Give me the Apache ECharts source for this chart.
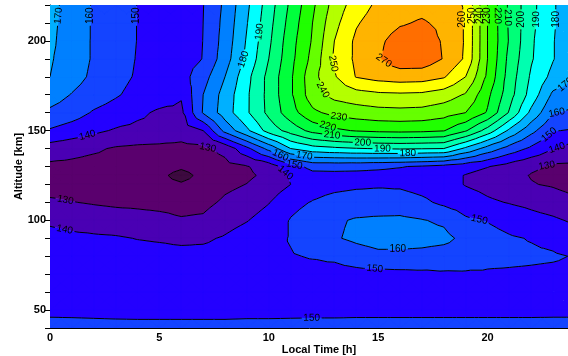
<!DOCTYPE html>
<html>
<head>
<meta charset="utf-8">
<script src="https://cdn.jsdelivr.net/npm/echarts@6/dist/echarts.min.js"></script>
<style>
  html, body { margin: 0; padding: 0; background: #fff; }
  #chart { width: 568px; height: 356px; }
</style>
</head>
<body>
<div id="chart"></div>
<script>
// grid of the field: local time (h) across, altitude (km) up
const localTime = [0, 1, 2, 3, 4, 5, 6, 7, 8, 9, 10, 11, 12, 13, 14, 15, 16, 17, 18, 19, 20, 21, 22, 23, 24];
const altitude = [40, 50, 60, 70, 80, 90, 100, 110, 120, 125, 130, 140, 150, 160, 170, 180, 190, 200, 210, 220];

// one row per altitude (bottom to top), one value per hour
const temperature = [
  [151.5,151.5,151.4,151.3,151.2, 151.2,151.2,151.2,151.2,151.3, 151.3,151.3,151.4,151.4,151.4, 151.4,151.4,151.4,151.4,151.4, 151.4,151.4,151.4,151.5,151.5], // 40
  [149.0,148.9,148.8,148.7,148.7, 148.7,148.7,148.7,148.7,148.8, 148.8,148.9,148.9,148.9,149.0, 149.0,149.0,149.0,149.0,149.0, 149.0,149.0,149.0,149.0,149.0], // 50
  [147.8,147.6,147.4,147.3,147.2, 147.2,147.2,147.2,147.3,147.4, 147.6,147.8,147.9,148.0,148.0, 148.0,148.0,148.0,148.1,148.2, 148.3,148.3,148.2,148.0,147.8], // 60
  [147.0,146.8,146.5,146.3,146.2, 146.0,146.0,146.0,146.2,146.6, 147.0,147.5,147.5,147.0,147.0, 147.0,147.5,148.0,148.8,149.0, 149.0,148.8,148.5,148.0,147.5], // 70
  [145.5,145.2,144.8,144.3,143.8, 143.3,143.0,143.0,144.0,146.5, 148.5,149.5,150.5,151.5,155.0, 157.5,157.5,157.0,155.5,154.5, 152.5,152.0,151.5,151.0,149.5], // 80
  [143.0,142.0,141.5,141.0,139.7, 139.0,138.0,138.5,141.0,145.0, 147.0,150.5,154.0,159.0,162.0, 164.0,164.0,163.5,162.5,157.5, 153.5,151.0,149.5,147.5,144.0], // 90
  [138.5,137.0,135.5,134.5,133.5, 132.5,130.8,131.5,136.0,139.5, 145.0,150.5,154.0,158.5,161.0, 161.8,162.0,160.5,158.5,151.5, 149.5,146.5,143.5,141.5,138.5], // 100
  [131.5,130.3,129.2,128.3,128.0, 127.5,127.0,127.5,131.5,134.0, 139.5,147.5,150.5,153.0,154.0, 154.0,154.5,152.0,148.0,145.0, 141.5,139.5,137.5,135.0,132.0], // 110
  [126.0,125.5,125.0,124.5,123.5, 122.5,121.0,123.5,128.0,130.2, 134.0,140.0,146.0,147.5,148.5, 149.0,148.5,146.5,144.0,139.5, 137.0,134.5,130.5,129.0,126.5], // 120
  [125.5,125.0,124.5,124.0,123.0, 122.0,117.0,122.5,126.0,128.5, 132.0,141.0,147.0,147.5,147.5, 147.5,147.0,146.0,144.0,139.5, 136.0,133.0,129.5,128.0,125.5], // 125
  [128.0,127.5,126.5,126.0,125.0, 124.0,121.5,124.0,127.0,129.5, 134.0,146.0,153.0,153.0,152.5, 151.5,150.5,149.0,147.0,144.0, 140.5,136.0,131.5,128.5,128.0], // 130
  [135.5,133.5,131.5,129.0,128.0, 127.5,127.0,128.0,133.0,147.5, 163.0,180.0,186.0,188.0,189.5, 190.5,191.0,190.5,190.0,178.0, 166.0,156.0,148.0,140.5,135.5], // 140
  [149.0,145.5,142.0,139.0,137.5, 137.0,135.0,140.0,163.0,178.0, 194.0,204.0,213.0,218.0,220.7, 222.0,222.5,222.0,220.5,211.0, 196.0,178.0,163.0,150.5,149.0], // 150
  [158.0,154.5,149.0,146.0,142.0, 138.5,138.0,160.8,175.0,188.6, 202.5,215.7,227.8,233.0,235.0, 236.5,237.0,236.5,234.0,230.0, 219.0,199.0,177.5,160.5,158.0], // 160
  [165.0,159.5,155.0,151.0,147.0, 145.0,141.0,160.0,174.0,188.5, 203.0,218.5,235.5,243.0,246.0, 248.0,248.5,248.0,245.0,239.0, 222.5,204.0,186.0,168.0,165.0], // 170
  [170.0,164.0,158.0,153.0,149.0, 146.0,146.0,156.0,170.0,187.0, 203.0,218.5,236.5,249.0,260.5, 263.5,265.0,264.5,261.0,250.0, 228.0,205.5,188.5,177.0,170.0], // 180
  [171.0,165.0,159.0,154.0,149.5, 146.0,145.5,150.3,165.5,182.5, 200.0,217.0,233.0,251.5,262.0, 269.0,276.0,276.0,269.5,258.5, 230.0,207.0,191.0,180.5,171.0], // 190
  [172.0,165.0,159.0,154.0,149.8, 146.0,145.0,150.1,164.0,181.0, 198.0,216.0,231.0,250.0,262.0, 268.0,274.0,275.0,269.0,259.0, 230.0,209.0,191.5,180.5,172.0], // 200
  [172.5,165.5,159.0,154.5,149.8, 146.5,145.5,150.0,163.0,179.5, 196.5,214.0,230.0,247.0,259.0, 265.0,269.0,271.0,268.0,259.0, 230.0,208.5,192.5,181.0,172.5], // 210
  [173.0,166.0,159.0,155.0,149.8, 147.0,146.0,149.7,162.0,178.0, 195.0,212.0,228.0,244.0,255.0, 262.0,266.0,267.0,265.0,259.0, 230.0,208.0,193.0,181.0,173.0]  // 220
];

const levels = [120, 130, 140, 150, 160, 170, 180, 190, 200, 210, 220, 230, 240, 250, 260, 270];

// fill below 120, between each pair of levels, above 270
const bandColors = [
  '#3d0a40', '#5a006e', '#4a00b4', '#2400ff', '#1444ff', '#0080ff', '#00b0ff', '#00ffff',
  '#00ffb0', '#00ff78', '#00ff3c', '#20ff00', '#66ff00', '#b4ff00', '#ffff00', '#ffb400', '#ff6e00'
];

// where the contour labels sit: [local time, altitude, level]
const contourLabels = [
  [0.37, 214, 170], [1.9, 214, 160], [3.97, 214, 150],
  [8.77, 190, 180], [9.7, 205, 190],
  [12.8, 187, 250], [12.3, 171.5, 240], [15.2, 188, 270],
  [18.9, 212, 260], [19.3, 214, 250], [19.6, 214, 240], [20.0, 214, 230], [20.5, 214, 220],
  [20.9, 213, 210], [21.55, 212, 200], [22.2, 212, 190], [23.15, 212, 180], [23.4, 178, 170],
  [13.2, 157, 230], [12.7, 152.5, 220], [12.9, 148, 210], [14.3, 144.7, 200], [15.2, 142.5, 190],
  [16.35, 141.3, 180], [11.65, 138, 170], [10.6, 138, 160], [11.2, 133, 150], [10.9, 128.5, 140],
  [7.2, 139.7, 130], [1.7, 148, 140], [0.7, 111.2, 130], [0.7, 96.6, 140],
  [23.2, 158, 160], [22.8, 148, 150], [23.15, 141.3, 140], [22.7, 131.3, 130],
  [19.6, 98.9, 150], [15.9, 82.7, 160], [14.85, 73.7, 150], [11.96, 45.8, 150]
];

const FONT = '"Liberation Sans", Arial, Helvetica, sans-serif';

function clipPoly(poly, t, above) {
  const out = [];
  for (let k = 0; k < poly.length; k++) {
    const p = poly[k], q = poly[(k + 1) % poly.length];
    const pin = above ? p.v >= t : p.v <= t;
    const qin = above ? q.v >= t : q.v <= t;
    if (pin) out.push(p);
    if (pin !== qin) {
      const s = (t - p.v) / (q.v - p.v);
      out.push({ h: p.h + s * (q.h - p.h), z: p.z + s * (q.z - p.z), v: t });
    }
  }
  return out;
}

function renderContours(params, api) {
  const eps = 1e-6;
  const thr = levels.map(l => l + eps);
  const bandPaths = bandColors.map(() => []);
  const segs = levels.map(() => []);
  const toPx = p => api.coord([p.h, p.z]);

  for (let j = 0; j < altitude.length - 1; j++) {
    for (let i = 0; i < localTime.length - 1; i++) {
      const a = { h: localTime[i], z: altitude[j], v: temperature[j][i] };
      const b = { h: localTime[i + 1], z: altitude[j], v: temperature[j][i + 1] };
      const c = { h: localTime[i + 1], z: altitude[j + 1], v: temperature[j + 1][i + 1] };
      const d = { h: localTime[i], z: altitude[j + 1], v: temperature[j + 1][i] };
      const m = { h: (a.h + b.h) / 2, z: (a.z + d.z) / 2, v: (a.v + b.v + c.v + d.v) / 4 };
      const tris = [[a, b, m], [b, c, m], [c, d, m], [d, a, m]];
      tris.forEach(tri => {
        const vmin = Math.min(tri[0].v, tri[1].v, tri[2].v);
        const vmax = Math.max(tri[0].v, tri[1].v, tri[2].v);
        for (let k = 0; k < bandColors.length; k++) {
          const lo = k === 0 ? -Infinity : thr[k - 1];
          const hi = k === bandColors.length - 1 ? Infinity : thr[k];
          if (vmax < lo || vmin > hi) continue;
          let poly = tri;
          if (lo > -Infinity) poly = clipPoly(poly, lo, true);
          if (hi < Infinity) poly = clipPoly(poly, hi, false);
          if (poly.length < 3) continue;
          const pts = poly.map(toPx);
          bandPaths[k].push('M' + pts.map(p => p[0].toFixed(2) + ' ' + p[1].toFixed(2)).join('L') + 'Z');
        }
        for (let li = 0; li < levels.length; li++) {
          const t = thr[li];
          if (vmax < t || vmin > t) continue;
          const cross = [];
          for (let e = 0; e < 3; e++) {
            const p = tri[e], q = tri[(e + 1) % 3];
            if ((p.v - t) * (q.v - t) < 0) {
              const s = (t - p.v) / (q.v - p.v);
              cross.push(toPx({ h: p.h + s * (q.h - p.h), z: p.z + s * (q.z - p.z) }));
            }
          }
          if (cross.length === 2) segs[li].push(cross);
        }
      });
    }
  }

  // snap every label onto its own contour and take the local direction
  const placed = contourLabels.map(([h, z, lev]) => {
    const li = levels.indexOf(lev);
    const anchor = api.coord([h, z]);
    let best = null, bestD = Infinity;
    segs[li].forEach(([p, q]) => {
      const dx = q[0] - p[0], dy = q[1] - p[1];
      const len2 = dx * dx + dy * dy || 1e-9;
      let s = ((anchor[0] - p[0]) * dx + (anchor[1] - p[1]) * dy) / len2;
      s = Math.max(0, Math.min(1, s));
      const x = p[0] + s * dx, y = p[1] + s * dy;
      const dd = (x - anchor[0]) ** 2 + (y - anchor[1]) ** 2;
      if (dd < bestD) { bestD = dd; best = { x, y, dx, dy }; }
    });
    if (!best) return null;
    let ang = Math.atan2(-best.dy, best.dx);
    if (ang > Math.PI / 2 + 1e-3) ang -= Math.PI;
    if (ang < -Math.PI / 2 + 1e-3) ang += Math.PI;
    return { li, lev, x: best.x, y: best.y, ang };
  }).filter(Boolean);

  const gapR = 10;
  let lineData = '';
  segs.forEach((list, li) => {
    const holes = placed.filter(l => l.li === li);
    list.forEach(([p, q]) => {
      let pieces = [[0, 1]];
      const dx = q[0] - p[0], dy = q[1] - p[1];
      holes.forEach(hole => {
        const fx = p[0] - hole.x, fy = p[1] - hole.y;
        const A = dx * dx + dy * dy, B = 2 * (fx * dx + fy * dy), C = fx * fx + fy * fy - gapR * gapR;
        const disc = B * B - 4 * A * C;
        if (A === 0 || disc <= 0) return;
        const t0 = (-B - Math.sqrt(disc)) / (2 * A), t1 = (-B + Math.sqrt(disc)) / (2 * A);
        const next = [];
        pieces.forEach(([s0, s1]) => {
          if (t1 <= s0 || t0 >= s1) { next.push([s0, s1]); return; }
          if (t0 > s0) next.push([s0, t0]);
          if (t1 < s1) next.push([t1, s1]);
        });
        pieces = next;
      });
      pieces.forEach(([s0, s1]) => {
        lineData += 'M' + (p[0] + s0 * dx).toFixed(2) + ' ' + (p[1] + s0 * dy).toFixed(2) +
          'L' + (p[0] + s1 * dx).toFixed(2) + ' ' + (p[1] + s1 * dy).toFixed(2);
      });
    });
  });

  const children = [];
  bandPaths.forEach((parts, k) => {
    if (!parts.length) return;
    children.push({
      type: 'path', silent: true,
      shape: { pathData: parts.join('') },
      style: { fill: bandColors[k], stroke: bandColors[k], lineWidth: 0.4 }
    });
  });
  children.push({
    type: 'path', silent: true,
    shape: { pathData: lineData },
    style: { fill: null, stroke: '#000', lineWidth: 1 }
  });
  placed.forEach(l => {
    children.push({
      type: 'text', silent: true,
      x: l.x, y: l.y, rotation: l.ang,
      style: { text: String(l.lev), fill: '#000', font: '10px ' + FONT, align: 'center', verticalAlign: 'middle' }
    });
  });
  return { type: 'group', children };
}

const chart = echarts.init(document.getElementById('chart'), null, { renderer: 'canvas' });

const labelFont = { color: '#000', fontFamily: FONT, fontWeight: 'bold', fontSize: 11 };
const frameLine = { show: true, onZero: false, lineStyle: { color: '#000', width: 1 } };

chart.setOption({
  animation: false,
  backgroundColor: '#fff',
  grid: { left: 50, right: -7, top: 5, bottom: 28, outerBoundsMode: 'none', containLabel: false },
  xAxis: [
    {
      type: 'value', position: 'bottom', min: 0, max: 24, interval: 5,
      axisLine: frameLine,
      axisTick: { inside: true, length: 8, lineStyle: { color: '#000' } },
      axisLabel: Object.assign({ margin: 4, showMaxLabel: false }, labelFont),
      splitLine: { show: false },
      name: 'Local Time [h]', nameLocation: 'middle', nameGap: 16, nameMoveOverlap: false,
      nameTextStyle: Object.assign({ padding: [0, 0, 0, 13] }, labelFont)
    },
    {
      type: 'value', position: 'bottom', min: 0, max: 24, interval: 1,
      axisLine: { show: false }, axisLabel: { show: false }, splitLine: { show: false },
      axisTick: { inside: true, length: 4, lineStyle: { color: '#000' } }
    },
    {
      type: 'value', position: 'top', min: 0, max: 24, interval: 5,
      axisLine: frameLine, axisLabel: { show: false }, splitLine: { show: false },
      axisTick: { inside: true, length: 8, lineStyle: { color: '#000' } }
    },
    {
      type: 'value', position: 'top', min: 0, max: 24, interval: 1,
      axisLine: { show: false }, axisLabel: { show: false }, splitLine: { show: false },
      axisTick: { inside: true, length: 4, lineStyle: { color: '#000' } }
    }
  ],
  yAxis: [
    {
      type: 'value', position: 'left', min: 40, max: 220,
      axisLine: frameLine,
      axisTick: { inside: true, length: 10, customValues: [50, 100, 150, 200], lineStyle: { color: '#000' } },
      axisLabel: Object.assign({ margin: 4, customValues: [50, 100, 150, 200] }, labelFont),
      splitLine: { show: false },
      name: 'Altitude [km]', nameLocation: 'middle', nameGap: 26, nameMoveOverlap: false,
      nameTextStyle: labelFont
    },
    {
      type: 'value', position: 'left', min: 40, max: 220, interval: 10,
      axisLine: { show: false }, axisLabel: { show: false }, splitLine: { show: false },
      axisTick: { inside: true, length: 5, lineStyle: { color: '#000' } }
    },
    {
      type: 'value', position: 'right', min: 40, max: 220,
      axisLine: frameLine, axisLabel: { show: false }, splitLine: { show: false },
      axisTick: { inside: true, length: 10, customValues: [50, 100, 150, 200], lineStyle: { color: '#000' } }
    },
    {
      type: 'value', position: 'right', min: 40, max: 220, interval: 10,
      axisLine: { show: false }, axisLabel: { show: false }, splitLine: { show: false },
      axisTick: { inside: true, length: 5, lineStyle: { color: '#000' } }
    }
  ],
  series: [
    {
      type: 'custom',
      coordinateSystem: 'cartesian2d',
      xAxisIndex: 0, yAxisIndex: 0,
      clip: true,
      z: 1,
      data: [[12, 130]],
      renderItem: renderContours
    }
  ]
});
</script>
</body>
</html>
